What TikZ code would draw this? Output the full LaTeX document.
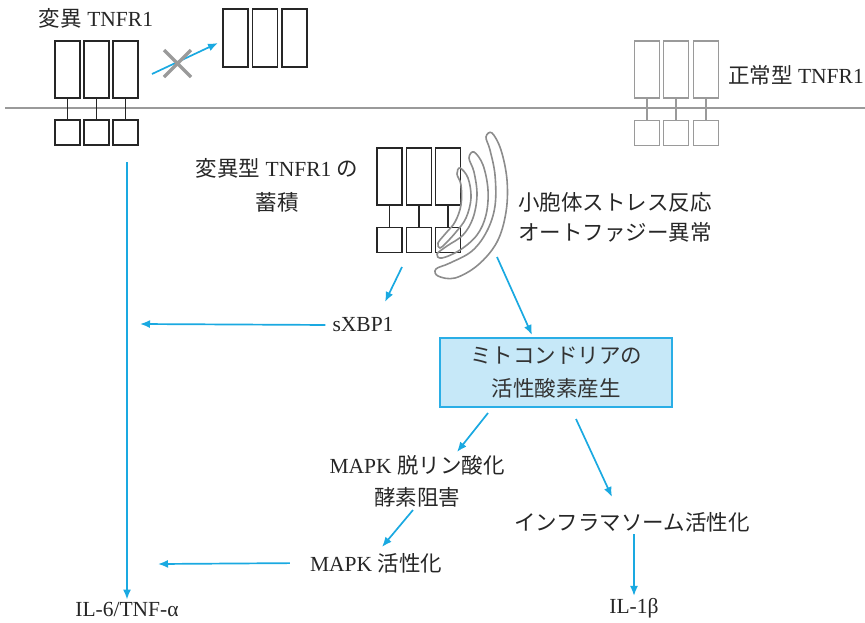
\documentclass[tikz,border=0pt]{standalone}
\usepackage{fontspec}
\setmainfont{Liberation Serif}
\newfontfamily\jp{Noto Sans CJK JP}
\usetikzlibrary{arrows.meta}
\definecolor{flowblue}{HTML}{1AA9E1}
\definecolor{boxblue}{HTML}{2AAEE6}
\definecolor{boxfill}{HTML}{C6E8F8}
\definecolor{lgray}{HTML}{9A9A9A}
\definecolor{ergray}{HTML}{8C8C8C}
\begin{document}
\begin{tikzpicture}[x=1pt, y=-1pt,
  font=\fontsize{21.5}{32}\selectfont,
  ecd/.style={rectangle, draw=black!85, line width=1.6pt, minimum width=25pt,
              minimum height=57pt, inner sep=0pt},
  icd/.style={ecd, minimum height=25pt},
  wild/.style={draw=lgray},
  stem/.style={draw=black!85, line width=1.6pt},
  flow/.style={draw=flowblue, line width=1.7pt, -{Latex[length=10pt,width=8pt]}},
  lbl/.style={align=center, text=black!85, inner sep=2pt},
  ros/.style={rectangle, draw=boxblue, fill=boxfill, line width=1.6pt,
              minimum width=232pt, minimum height=69pt, align=center, text=black!80}
]
\useasboundingbox (0,0) rectangle (865,622);
% cell membrane
\draw[lgray, line width=2.8pt] (5,108) -- (865,108);
% mutant receptor at the membrane
\node[ecd] (m1) at (67.5,69.5) {};  \node[icd] (m1i) at (67.5,132.5) {};
\node[ecd] (m2) at (96.5,69.5) {};  \node[icd] (m2i) at (96.5,132.5) {};
\node[ecd] (m3) at (125.5,69.5) {}; \node[icd] (m3i) at (125.5,132.5) {};
\draw[stem] (m1) -- (m1i) (m2) -- (m2i) (m3) -- (m3i);
% released trimer
\node[ecd, minimum height=58pt] (s1) at (235.5,38) {};
\node[ecd, minimum height=58pt] (s2) at (265,38) {};
\node[ecd, minimum height=58pt] (s3) at (294.5,38) {};
% wild type receptor
\node[ecd, wild] (w1) at (647,69.5) {}; \node[icd, wild] (w1i) at (647,133) {};
\node[ecd, wild] (w2) at (676,69.5) {}; \node[icd, wild] (w2i) at (676,133) {};
\node[ecd, wild] (w3) at (706,69.5) {}; \node[icd, wild] (w3i) at (706,133) {};
\draw[stem, lgray] (w1) -- (w1i) (w2) -- (w2i) (w3) -- (w3i);
% accumulated receptor
\node[ecd] (a1) at (389.5,176.5) {}; \node[icd] (a1i) at (389.5,240) {};
\node[ecd] (a2) at (419,176.5) {};   \node[icd] (a2i) at (419,240) {};
\node[ecd] (a3) at (448,176.5) {};   \node[icd] (a3i) at (448,240) {};
\draw[stem] (a1) -- (a1i) (a2) -- (a2i) (a3) -- (a3i);
% ER cisternae
\draw[ergray, line width=1.6pt] plot[smooth cycle, tension=0.6] coordinates {
  (492,133) (501,150) (507,180) (506,212) (497,242) (478,265) (455,278)
  (438,276) (436,269) (450,263) (472,251) (487,231) (495,206) (495,175)
  (490,150) (486,137)};
\draw[ergray, line width=1.6pt] plot[smooth cycle, tension=0.6] coordinates {
  (474,152) (483,165) (488,190) (486,215) (477,235) (460,250) (442,258)
  (437,254) (447,246) (463,235) (473,218) (477,195) (474,172) (469,158)};
\draw[ergray, line width=1.6pt] plot[smooth cycle, tension=0.6] coordinates {
  (460,168) (468,178) (471,198) (466,218) (456,232) (446,243) (440,248)
  (438,243) (446,233) (455,222) (461,205) (461,185) (457,174)};
% labels
\node[lbl] (lmut) at (96,18) {{\jp 変異} TNFR1};
\node[lbl, anchor=west, inner sep=0pt] (lwild) at (728,75) {{\jp 正常型} TNFR1};
\node[lbl, font=\fontsize{21.5}{34}\selectfont] (lacc) at (277,185)
  {{\jp 変異型} TNFR1 {\jp の}\\{\jp 蓄積}};
\node[lbl, anchor=west, align=left, font=\fontsize{21.5}{30}\selectfont\jp] (ler) at (516,217)
  {小胞体ストレス反応\\オートファジー異常};
% pathway
\node[lbl] (sxbp) at (363,325) {sXBP1};
\node[ros, font=\fontsize{21.5}{33}\selectfont\jp] (mros) at (556,372.5)
  {ミトコンドリアの\\活性酸素産生};
\node[lbl] (dephos) at (417,481) {MAPK {\jp 脱リン酸化}\\{\jp 酵素阻害}};
\node[lbl] (mapk) at (376,563) {MAPK {\jp 活性化}};
\node[lbl, font=\fontsize{21.5}{32}\selectfont\jp] (inflam) at (632,522) {インフラマソーム活性化};
\node[lbl] (il6) at (127,609) {IL-6/TNF-α};
\node[lbl] (il1) at (634,608) {IL-1β};
% arrow ends
\coordinate (xs) at (152,74);   \coordinate (xe) at (218,43);
\coordinate (ai) at (402,267);  \coordinate (si) at (385,302);
\coordinate (so) at (140,324);  \coordinate (vt) at (127,162);
\coordinate (eo) at (497,257);  \coordinate (ri) at (532,335);
\coordinate (rl) at (488,413);  \coordinate (di) at (457,452);
\coordinate (rr) at (576,419);  \coordinate (ii) at (612,497);
\coordinate (dm) at (413,510);  \coordinate (mi) at (382,547);
\coordinate (mo) at (158,564);
% arrows
\draw[flow] (xs) -- (xe);
\draw[lgray, line width=3.2pt] (164,50) -- (191,77) (191,50) -- (164,77);
\draw[flow] (ai) -- (si);
\draw[flow, shorten <=5pt] (sxbp.west) -- (so);
\draw[flow] (vt) -- (il6.north);
\draw[flow] (eo) -- (ri);
\draw[flow] (rl) -- (di);
\draw[flow] (rr) -- (ii);
\draw[flow] (dm) -- (mi);
\draw[flow, shorten <=18pt] (mapk.west) -- (mo);
\draw[flow] (il1.north |- inflam.south) -- (il1.north);
\end{tikzpicture}
\end{document}
